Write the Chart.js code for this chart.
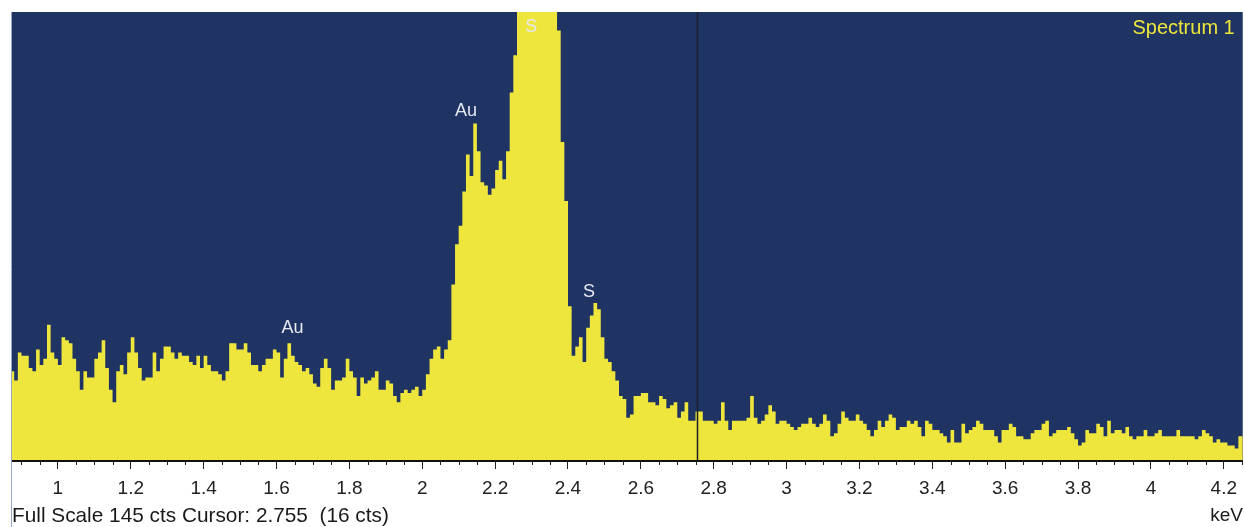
<!DOCTYPE html>
<html>
<head>
<meta charset="utf-8">
<script src="https://cdn.jsdelivr.net/npm/chart.js@4.4.1/dist/chart.umd.min.js"></script>
<style>
  html, body { margin: 0; padding: 0; background: #fff; }
  canvas { display: block; }
</style>
</head>
<body>
<canvas id="espectro" width="1245" height="527"></canvas>
<script>
// canais de 10 eV, o primeiro começa em 0.87 keV
const channelStart = 0.87;
const channelWidth = 0.01;
const counts = [
    29, 26, 35, 34, 34, 30, 29, 36, 31, 33,
    44, 35, 33, 31, 40, 39, 38, 33, 29, 23,
    29, 27, 27, 33, 35, 39, 30, 23, 19, 29,
    31, 28, 35, 40, 35, 30, 26, 27, 27, 35,
    29, 33, 37, 37, 35, 33, 35, 34, 34, 32,
    31, 34, 30, 34, 31, 29, 29, 28, 26, 29,
    38, 38, 36, 36, 38, 35, 31, 31, 29, 31,
    33, 33, 36, 35, 27, 33, 38, 34, 32, 31,
    29, 30, 28, 25, 24, 30, 33, 30, 23, 26,
    26, 27, 33, 29, 27, 21, 27, 25, 26, 27,
    29, 23, 23, 26, 25, 21, 19, 22, 23, 22,
    23, 24, 21, 23, 28, 33, 36, 37, 33, 36,
    39, 57, 70, 76, 87, 99, 92, 109, 100, 90,
    89, 86, 88, 94, 97, 91, 100, 119, 131, 165,
    190, 215, 235, 245, 240, 225, 200, 180, 160, 148,
    139, 103, 84, 50, 34, 37, 40, 32, 43, 47,
    51, 49, 40, 33, 32, 29, 26, 21, 20, 14,
    15, 21, 21, 22, 22, 19, 19, 18, 21, 20,
    17, 18, 19, 14, 16, 19, 13, 13, 16, 16,
    13, 13, 13, 12, 13, 19, 13, 10, 13, 13,
    13, 13, 14, 21, 14, 12, 13, 15, 18, 16,
    12, 13, 13, 12, 11, 10, 11, 12, 12, 14,
    12, 11, 12, 15, 13, 8, 9, 12, 16, 14,
    13, 13, 15, 13, 12, 10, 8, 10, 13, 11,
    13, 15, 14, 10, 11, 11, 13, 12, 13, 11,
    8, 13, 12, 10, 10, 9, 8, 6, 10, 6,
    6, 12, 9, 10, 11, 13, 12, 10, 10, 10,
    8, 6, 10, 10, 12, 11, 8, 8, 7, 7,
    9, 10, 10, 12, 13, 8, 9, 10, 10, 10,
    11, 9, 7, 5, 6, 10, 9, 9, 12, 11,
    8, 13, 9, 10, 10, 9, 11, 8, 7, 8,
    8, 10, 8, 8, 9, 10, 8, 8, 8, 8,
    10, 8, 8, 8, 8, 7, 8, 10, 9, 8,
    6, 7, 6, 6, 5, 5, 4, 8, 8
];

const xMin = 0.874;
const xMax = 4.252;
const fullScale = 145;
const cursorEnergy = 2.755;
const cursorCounts = 16;
const spectrumName = 'Spectrum 1';

// etiquetas dos picos (elemento, energia, altura em contagens)
const peakNames = ['Au', 'Au', 'S', 'S'];
const peakEnergies = [1.644, 2.12, 2.299, 2.458];
const peakHeights = [43, 113, 140, 54.5];

const fundo = '#1f3463';
const amarelo = '#eee63c';

// monta os pontos do histograma (valor vale do início do canal até o próximo)
const pontos = counts.map((c, i) => ({ x: +(channelStart + i * channelWidth).toFixed(3), y: c }));
pontos.push({ x: +(channelStart + counts.length * channelWidth).toFixed(3), y: counts[counts.length - 1] });

const espectroPlugin = {
    id: 'espectro',
    beforeDraw(chart) {
        const { ctx, chartArea: a } = chart;
        ctx.save();
        ctx.fillStyle = fundo;
        ctx.fillRect(a.left, a.top, a.right - a.left, a.bottom - a.top);
        ctx.restore();
    },
    afterDatasetsDraw(chart) {
        const { ctx, chartArea: a, scales } = chart;
        const x = scales.x, y = scales.y;
        ctx.save();
        // cursor
        const cx = Math.round(x.getPixelForValue(cursorEnergy)) + 0.5;
        ctx.strokeStyle = '#1a1f2a';
        ctx.lineWidth = 1.5;
        ctx.beginPath();
        ctx.moveTo(cx, a.top);
        ctx.lineTo(cx, a.bottom);
        ctx.stroke();
        // nomes dos picos
        ctx.font = '18px "Liberation Sans", Arial, sans-serif';
        ctx.textAlign = 'center';
        ctx.textBaseline = 'middle';
        ctx.fillStyle = '#e6e8f2';
        peakNames.forEach((n, i) => {
            ctx.fillText(n, x.getPixelForValue(peakEnergies[i]), y.getPixelForValue(peakHeights[i]));
        });
        ctx.restore();
    },
    afterDraw(chart) {
        const { ctx, chartArea: a, scales } = chart;
        const x = scales.x;
        ctx.save();
        // ticks menores a cada 0.05 keV
        ctx.strokeStyle = '#222';
        ctx.lineWidth = 1;
        for (let k = Math.ceil(xMin / 0.05); k * 0.05 <= xMax; k++) {
            if (k % 4 === 0) continue;
            const px = Math.round(x.getPixelForValue(k * 0.05)) + 0.5;
            ctx.beginPath();
            ctx.moveTo(px, a.bottom);
            ctx.lineTo(px, a.bottom + 4);
            ctx.stroke();
        }
        // borda esquerda
        ctx.strokeStyle = '#9aa8c8';
        ctx.beginPath();
        ctx.moveTo(a.left - 0.5, a.top);
        ctx.lineTo(a.left - 0.5, chart.height);
        ctx.stroke();
        // textos
        ctx.font = '20.8px "Liberation Sans", Arial, sans-serif';
        ctx.textBaseline = 'middle';
        ctx.fillStyle = '#1a1a1a';
        ctx.textAlign = 'left';
        ctx.fillText('Full Scale ' + fullScale + ' cts Cursor: ' + cursorEnergy + '  (' + cursorCounts + ' cts)', a.left, 516);
        ctx.font = '19px "Liberation Sans", Arial, sans-serif';
        ctx.textAlign = 'right';
        ctx.fillText('keV', chart.width - 2, 516);
        ctx.fillStyle = amarelo;
        ctx.font = '20px "Liberation Sans", Arial, sans-serif';
        ctx.fillText(spectrumName, a.right - 8, a.top + 16);
        ctx.restore();
    }
};

const config = {
    type: 'line',
    data: {
        datasets: [{
            data: pontos,
            stepped: 'before',
            fill: 'origin',
            backgroundColor: amarelo,
            borderColor: 'rgba(0,0,0,0)',
            borderWidth: 0,
            pointRadius: 0
        }]
    },
    options: {
        responsive: false,
        animation: false,
        devicePixelRatio: 1,
        layout: { padding: { top: 12, left: 12, right: 0, bottom: 0 } },
        plugins: { legend: { display: false }, tooltip: { enabled: false } },
        scales: {
            x: {
                type: 'linear',
                min: xMin,
                max: xMax,
                afterFit: (s) => { s.height = 66; },
                grid: { drawOnChartArea: false, tickLength: 8, tickColor: '#222', tickWidth: 1 },
                border: { display: true, color: '#111', width: 2, z: 1 },
                ticks: {
                    stepSize: 0.2,
                    includeBounds: false,
                    autoSkip: false,
                    maxRotation: 0,
                    padding: 8,
                    color: '#222',
                    font: { family: '"Liberation Sans", Arial, sans-serif', size: 19 },
                    callback: (v) => String(+v.toFixed(1))
                }
            },
            y: { display: false, min: 0, max: fullScale }
        }
    },
    plugins: [espectroPlugin]
};

const grafico = new Chart(document.getElementById('espectro'), config);
</script>
</body>
</html>
